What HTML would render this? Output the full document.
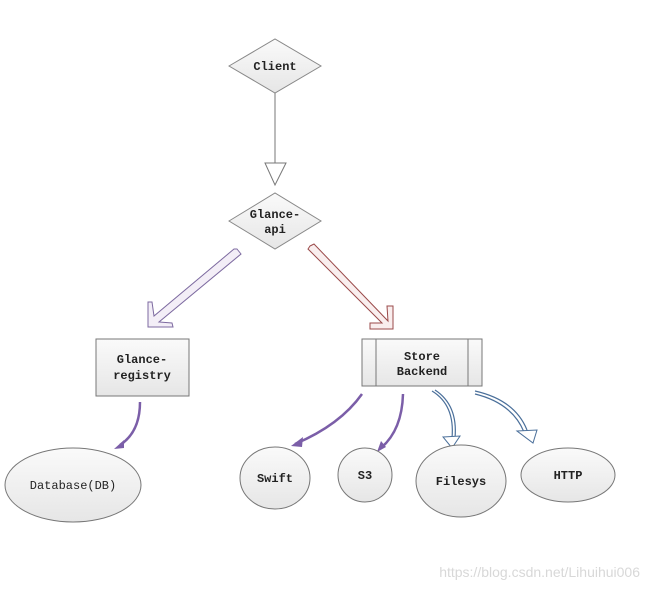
<!DOCTYPE html>
<html><head><style>
body{margin:0;background:#fff;}
svg text{font-family:"Liberation Mono","DejaVu Sans Mono",monospace;font-weight:bold;font-size:12px;fill:#222;}
</style></head><body>
<svg width="649" height="590" viewBox="0 0 649 590" xmlns="http://www.w3.org/2000/svg">
<defs>
<linearGradient id="g" x1="0" y1="0" x2="0" y2="1"><stop offset="0" stop-color="#fafafa"/><stop offset="1" stop-color="#e6e6e6"/></linearGradient>
</defs>
<!-- Client -->
<polygon points="229,66 275,39 321,66 275,93" fill="url(#g)" stroke="#888"/>
<text x="275" y="70" text-anchor="middle">Client</text>
<line x1="275" y1="93" x2="275" y2="163" stroke="#777"/>
<polygon points="265,163 286,163 275,185" fill="#fff" stroke="#777"/>
<!-- Glance-api -->
<polygon points="229,221 275,193 321,221 275,249" fill="url(#g)" stroke="#888"/>
<text x="275" y="218" text-anchor="middle">Glance-</text>
<text x="275" y="233" text-anchor="middle">api</text>
<!-- hollow arrows -->
<polygon points="237,249 241,254 159,322 172,323 173,327 148,327 148,302 152,302 154,316 234,249" fill="#f3eef7" stroke="#7d6aa0"/>
<polygon points="310,246 314,244 388,321 387,306 393,306 393,329 370,329 370,323 382,323 308,249" fill="#f9eeee" stroke="#9a4a4a"/>
<!-- boxes -->
<rect x="96" y="339" width="93" height="57" fill="url(#g)" stroke="#777"/>
<text x="142" y="363" text-anchor="middle">Glance-</text>
<text x="142" y="379" text-anchor="middle">registry</text>
<rect x="362" y="339" width="120" height="47" fill="url(#g)" stroke="#777"/>
<line x1="376" y1="339" x2="376" y2="386" stroke="#777"/>
<line x1="468" y1="339" x2="468" y2="386" stroke="#777"/>
<text x="422" y="360" text-anchor="middle">Store</text>
<text x="422" y="375" text-anchor="middle">Backend</text>
<!-- purple arrows -->
<g stroke="#7b5ea8" stroke-width="2.5" fill="none">
<path d="M140 402 Q140 432 120 445"/>
<path d="M362 394 Q340 425 295 444"/>
<path d="M403 394 Q402 430 381 448"/>
</g>
<g fill="#7b5ea8">
<polygon points="114,449 124,440 124,448"/>
<polygon points="291,446 303,437 302,447"/>
<polygon points="377,452 381,441 386,447"/>
</g>
<!-- blue hollow arrows -->
<g stroke="#4a6f9a" stroke-width="1.2" fill="none">
<path d="M432 391 Q455 405 452 438"/>
<path d="M435 390 Q458 405 455 438"/>
<path d="M475 391 Q515 400 527 430"/>
<path d="M475 394 Q512 403 524 432"/>
</g>
<polygon points="443,437 460,436 452,448" fill="#fff" stroke="#4a6f9a"/>
<polygon points="517,431 537,430 533,443" fill="#fff" stroke="#4a6f9a"/>
<!-- ellipses -->
<g fill="url(#g)" stroke="#777">
<ellipse cx="73" cy="485" rx="68" ry="37"/>
<ellipse cx="275" cy="478" rx="35" ry="31"/>
<ellipse cx="365" cy="475" rx="27" ry="27"/>
<ellipse cx="461" cy="481" rx="45" ry="36"/>
<ellipse cx="568" cy="475" rx="47" ry="27"/>
</g>
<text x="73" y="489" text-anchor="middle" style="font-weight:normal">Database(DB)</text>
<text x="275" y="482" text-anchor="middle">Swift</text>
<text x="365" y="479" text-anchor="middle">S3</text>
<text x="461" y="485" text-anchor="middle">Filesys</text>
<text x="568" y="479" text-anchor="middle">HTTP</text>
<text x="640" y="577" text-anchor="end" style="font-family:'Liberation Sans',sans-serif;font-weight:normal;font-size:14px;fill:#d8d8d8">https://blog.csdn.net/Lihuihui006</text>
</svg>
</body></html>
